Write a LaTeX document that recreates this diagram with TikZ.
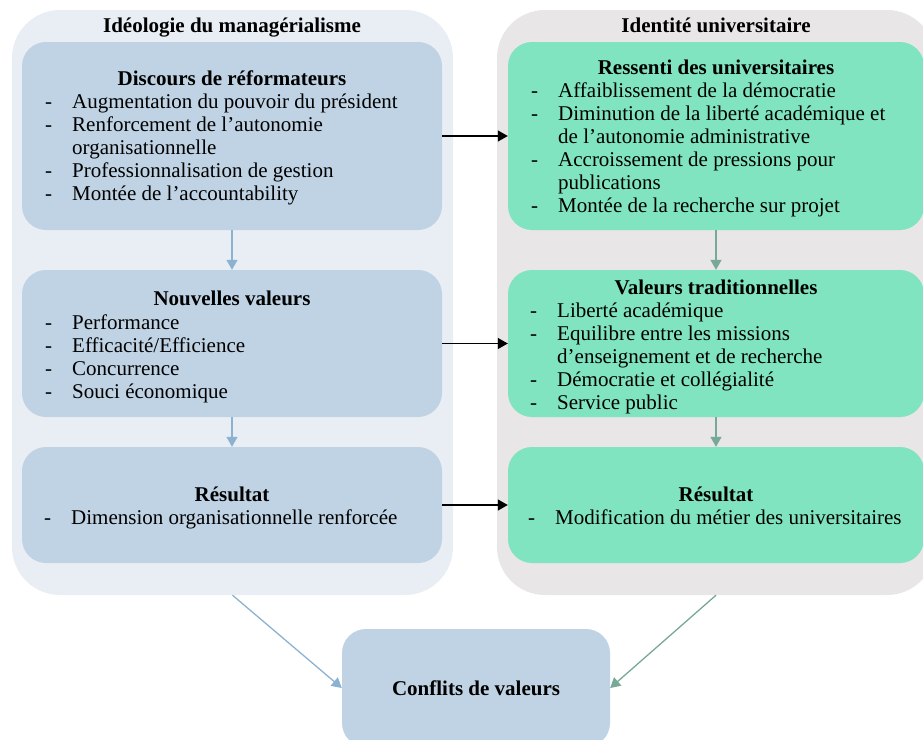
\documentclass[tikz,border=0pt]{standalone}
\usepackage{fontspec}
\setmainfont{Liberation Serif}
\usetikzlibrary{arrows.meta}

\definecolor{ideofond}{RGB}{233,238,245}
\definecolor{ideobox}{RGB}{191,211,228}
\definecolor{identfond}{RGB}{232,230,231}
\definecolor{identbox}{RGB}{127,228,191}
\definecolor{flecheg}{RGB}{140,178,210}
\definecolor{fleched}{RGB}{120,168,150}

\newcommand{\puces}[1]{\begin{tabular}{@{}l@{\hspace{20pt}}l@{}}#1\end{tabular}}

\begin{document}
\begin{tikzpicture}[x=1pt,y=-1pt,
	font=\fontsize{21}{23}\selectfont,
	cadre/.style={rounded corners=48pt,inner sep=0pt},
	boite/.style={rounded corners=24pt,inner sep=0pt},
	titre/.style={font=\fontsize{21}{23}\selectfont\bfseries,inner sep=0pt,text height=15pt,text depth=5pt},
	liste/.style={anchor=west,inner sep=0pt},
	fl/.style={-{Triangle[length=10pt,width=11pt]},line width=1.3pt}]
	\useasboundingbox (0,0) rectangle (923,739);
	\clip (0,0) rectangle (923,739);
	\node[cadre,fill=ideofond,minimum width=441pt,minimum height=585pt] (ideo) at (232.5,302.5) {};
	\node[cadre,fill=identfond,minimum width=438pt,minimum height=585pt] (ident) at (716,302.5) {};
	\node[titre] (tideo) at (232,27) {Idéologie du managérialisme};
	\node[titre] (tident) at (716,27) {Identité universitaire};
	% colonne de gauche
	\node[boite,fill=ideobox,minimum width=420pt,minimum height=188pt] (discours) at (232,136) {};
	\node[boite,fill=ideobox,minimum width=420pt,minimum height=147pt] (nouv) at (232,343.5) {};
	\node[boite,fill=ideobox,minimum width=420pt,minimum height=116pt] (resg) at (232,505) {};
	\node[titre] (tdiscours) at (232,80) {Discours de réformateurs};
	\node[liste] (ldiscours) at (45,150) {\puces{
		- & Augmentation du pouvoir du président\\
		- & Renforcement de l’autonomie\\
		  & organisationnelle\\
		- & Professionnalisation de gestion\\
		- & Montée de l’accountability}};
	\node[titre] (tnouv) at (232,300) {Nouvelles valeurs};
	\node[liste] (lnouv) at (45,359) {\puces{
		- & Performance\\
		- & Efficacité/Efficience\\
		- & Concurrence\\
		- & Souci économique}};
	\node[titre] (tresg) at (232,496) {Résultat};
	\node[liste] (lresg) at (44,520) {\puces{
		- & Dimension organisationnelle renforcée}};
	% colonne de droite
	\node[boite,fill=identbox,minimum width=416pt,minimum height=188pt] (ressenti) at (716,136) {};
	\node[boite,fill=identbox,minimum width=416pt,minimum height=147pt] (tradi) at (716,343.5) {};
	\node[boite,fill=identbox,minimum width=416pt,minimum height=116pt] (resd) at (716,505) {};
	\node[titre] (tressenti) at (716,69) {Ressenti des universitaires};
	\node[liste] (lressenti) at (531,150.5) {\puces{
		- & Affaiblissement de la démocratie\\
		- & Diminution de la liberté académique et\\
		  & de l’autonomie administrative\\
		- & Accroissement de pressions pour\\
		  & publications\\
		- & Montée de la recherche sur projet}};
	\node[titre] (ttradi) at (716,289) {Valeurs traditionnelles};
	\node[liste] (ltradi) at (530,358.5) {\puces{
		- & Liberté académique\\
		- & Equilibre entre les missions\\
		  & d’enseignement et de recherche\\
		- & Démocratie et collégialité\\
		- & Service public}};
	\node[titre] (tresd) at (716,496) {Résultat};
	\node[liste] (lresd) at (528,520) {\puces{
		- & Modification du métier des universitaires}};
	\node[boite,fill=ideobox,minimum width=268pt,minimum height=118pt,font=\fontsize{21}{23}\selectfont\bfseries] (conflits) at (476,688) {Conflits de valeurs};
	% fleches
	\draw[fl,flecheg] (discours) -- (nouv);
	\draw[fl,flecheg] (nouv) -- (resg);
	\draw[fl,fleched] (ressenti) -- (tradi);
	\draw[fl,fleched] (tradi) -- (resd);
	\draw[fl,black] (discours) -- (ressenti);
	\draw[fl,black] (nouv) -- (tradi);
	\draw[fl,black] (resg) -- (resd);
	\draw[fl,flecheg] (ideo.south) -- (conflits.west);
	\draw[fl,fleched] (ident.south) -- (conflits.east);
\end{tikzpicture}
\end{document}
